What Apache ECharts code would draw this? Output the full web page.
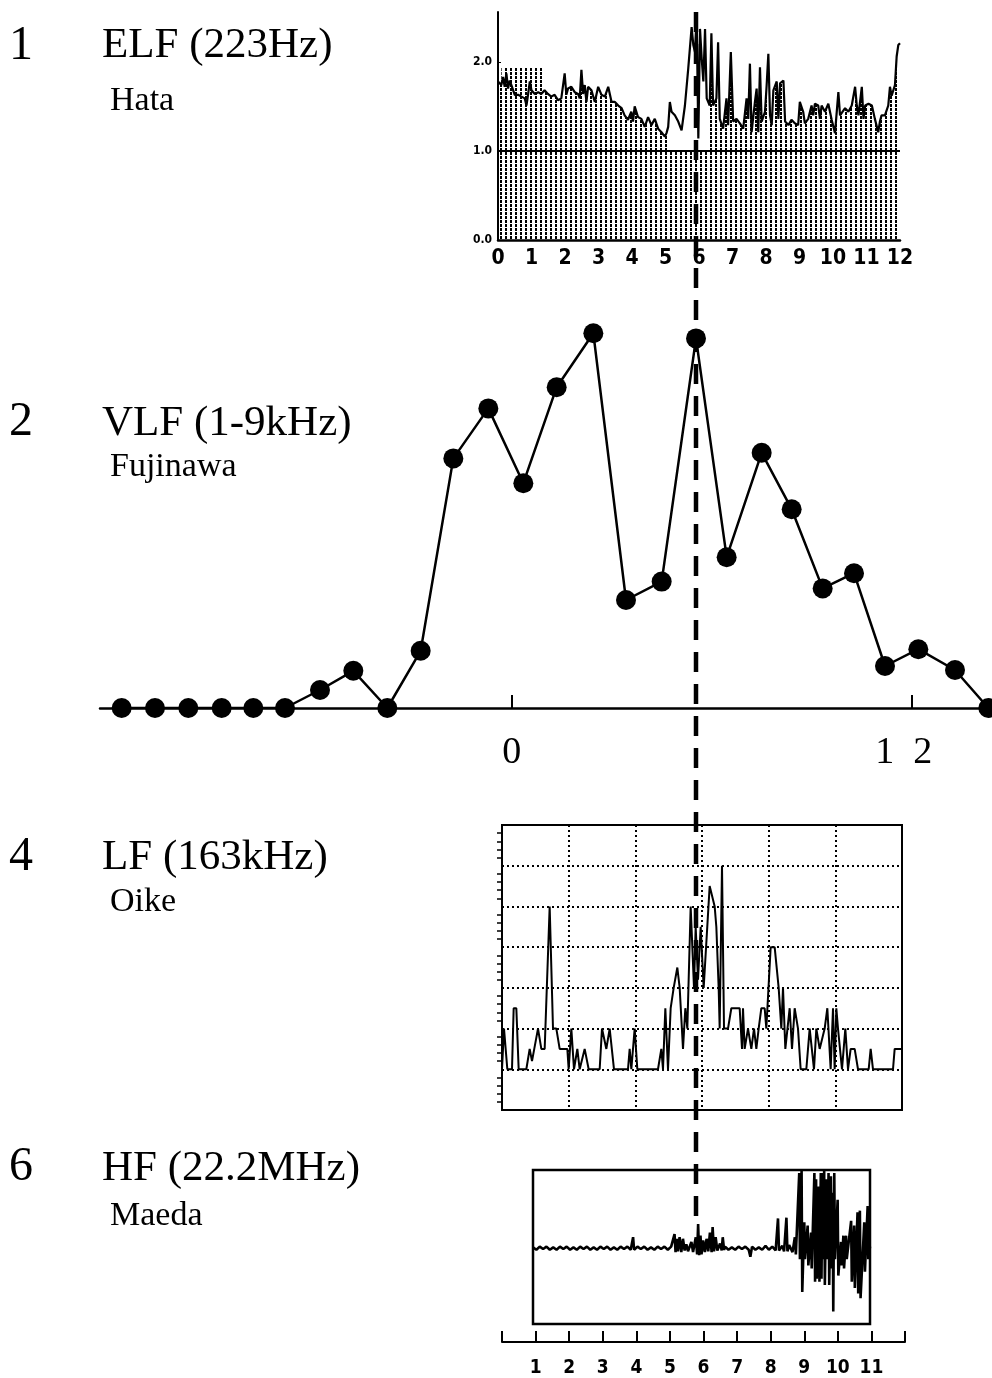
<!DOCTYPE html>
<html>
<head>
<meta charset="utf-8">
<title>ELF / VLF / LF / HF</title>
<script src="https://cdn.jsdelivr.net/npm/echarts@6/dist/echarts.min.js"></script>
<style>
  html, body { margin: 0; padding: 0; background: #fff; }
  #chart { width: 992px; height: 1378px; }
</style>
</head>
<body>
<div id="chart"></div>
<script>
// ---- values ----

// 1  ELF (223Hz), Hata  -- hours 0..12, relative level
const elfHours = [
  0.00,0.10,0.15,0.20,0.25,0.30,0.35,0.40,0.50,0.60,
  0.70,0.80,0.85,0.90,0.95,1.00,1.10,1.20,1.29,1.39,
  1.49,1.59,1.69,1.79,1.89,1.99,2.04,2.09,2.19,2.29,
  2.39,2.44,2.49,2.54,2.59,2.64,2.69,2.79,2.89,2.99,
  3.09,3.19,3.29,3.39,3.49,3.59,3.69,3.78,3.88,3.98,
  4.03,4.08,4.18,4.28,4.38,4.48,4.58,4.68,4.78,4.88,
  4.98,5.03,5.08,5.13,5.18,5.28,5.38,5.48,5.53,5.58,
  5.68,5.78,5.83,5.88,5.93,5.98,6.03,6.08,6.13,6.18,
  6.23,6.32,6.37,6.42,6.52,6.57,6.62,6.72,6.82,6.87,
  6.95,7.02,7.12,7.22,7.32,7.42,7.47,7.52,7.57,7.67,
  7.72,7.77,7.82,7.87,7.97,8.02,8.07,8.12,8.17,8.22,
  8.32,8.37,8.42,8.52,8.57,8.67,8.76,8.86,8.96,9.01,
  9.11,9.16,9.26,9.36,9.41,9.46,9.56,9.61,9.66,9.76,
  9.86,9.96,10.06,10.16,10.21,10.26,10.36,10.46,10.56,10.61,
  10.66,10.71,10.76,10.86,10.91,10.96,11.06,11.16,11.25,11.35,
  11.40,11.45,11.55,11.65,11.70,11.75,11.85,11.90,11.95,12.00
];
const elfValues = [
  1.78,1.74,1.83,1.72,1.87,1.70,1.79,1.74,1.63,1.63,
  1.61,1.59,1.51,1.64,1.78,1.68,1.64,1.66,1.64,1.68,
  1.64,1.61,1.63,1.57,1.59,1.87,1.63,1.70,1.72,1.66,
  1.64,1.59,1.91,1.64,1.74,1.55,1.72,1.68,1.55,1.72,
  1.63,1.61,1.72,1.55,1.55,1.51,1.48,1.40,1.35,1.44,
  1.33,1.50,1.38,1.36,1.27,1.38,1.29,1.36,1.25,1.21,
  1.16,1.20,1.27,1.55,1.44,1.40,1.33,1.23,1.25,1.51,
  1.93,2.39,2.19,2.11,2.52,1.14,2.37,2.04,1.78,2.37,
  1.59,1.51,2.32,1.51,1.59,2.22,1.36,1.25,1.59,1.29,
  2.11,1.33,1.36,1.31,1.25,1.59,1.36,1.98,1.21,1.55,
  1.70,1.21,1.94,1.33,1.44,1.74,2.09,1.40,1.29,1.68,
  1.78,1.36,1.76,1.79,1.33,1.29,1.35,1.31,1.29,1.55,
  1.44,1.31,1.36,1.51,1.40,1.53,1.51,1.36,1.51,1.44,
  1.53,1.35,1.20,1.66,1.40,1.40,1.48,1.44,1.51,1.53,
  1.72,1.51,1.40,1.72,1.36,1.51,1.53,1.51,1.36,1.21,
  1.33,1.40,1.40,1.51,1.72,1.62,1.74,2.06,2.19,2.21
];
const elfBlankSpan = [5.08, 6.32];      // hours where the shading above 1.0 is missing
const elfShadedBox = [0.10, 1.33, 1.93]; // from, to, top level of the dotted box at top-left
const elfRefLevel = 1.0;

// 2  VLF (1-9kHz), Fujinawa -- hourly counts
const vlfHours = [-11.7,-10.7,-9.7,-8.7,-7.75,-6.8,-5.75,-4.75,-3.73,-2.73,-1.75,-0.7,0.35,
  1.35,2.45,3.43,4.5,5.53,6.45,7.5,8.4,9.33,10.27,11.2,12.2,13.3,14.3];
const vlfValues = [0,0,0,0,0,0,4.5,9.3,0,14.3,62.4,74.9,56.2,
  80.2,93.7,27,31.6,92.4,37.7,63.8,49.7,29.9,33.7,10.5,14.7,9.5,0];
const vlfTickHours = [0, 12];
const vlfTickLabels = { 0: '0', 12: '{shift|1  2}' };
const eventHour = 5.53; // dashed line, on the VLF time axis

// 4  LF (163kHz), Oike
const lfHours = [0.00,0.06,0.16,0.30,0.35,0.43,0.50,0.73,0.83,0.90,
  1.08,1.18,1.28,1.43,1.53,1.63,1.73,1.96,2.00,2.08,
  2.16,2.26,2.33,2.48,2.60,2.93,3.00,3.13,3.23,3.36,
  3.78,3.83,3.88,3.98,4.06,4.68,4.78,4.83,4.90,4.98,
  5.06,5.15,5.26,5.33,5.43,5.50,5.56,5.66,5.76,5.81,
  5.88,5.96,6.05,6.23,6.38,6.43,6.50,6.53,6.60,6.66,
  6.78,6.88,7.13,7.20,7.23,7.28,7.38,7.48,7.56,7.63,
  7.70,7.78,7.88,7.93,8.06,8.18,8.30,8.38,8.43,8.50,
  8.63,8.70,8.78,8.88,8.96,9.13,9.23,9.36,9.43,9.53,
  9.68,9.76,9.86,9.93,9.98,10.03,10.08,10.20,10.30,10.38,
  10.46,10.58,10.68,11.00,11.06,11.13,11.73,11.78,12.00];
const lfLevels = [1,2,1,1,2.5,2.5,1,1,1.5,1.2,
  2,1.5,1.5,5,2,2,1.5,1.5,1,2,
  1,1.5,1,1.5,1,1,2,1.5,2,1,
  1,1.5,1,2,1,1,1.5,1,2.5,1,
  2.5,3,3.5,3,1.5,2.5,2,5,3,4.5,
  3.2,4.5,3,5.5,5,4.5,3,2,6,2,
  2,2.5,2.5,1.5,2.5,1.5,2,1.5,2,1.5,
  2,2.5,2.5,2,4,4,3,2,3,1.5,
  2.5,1.5,2.5,2,1,1,2,1,2,1.5,
  2,2.5,1,2.5,1,2.5,2,1,2,1,
  1.5,1.5,1,1,1.5,1,1,1.5,1.5];

// 6  HF (22.2MHz), Maeda
const hfHours = [
  1.00,1.10,1.20,1.30,1.40,1.50,1.60,1.70,1.80,1.90,
  2.00,2.10,2.20,2.30,2.40,2.50,2.60,2.70,2.80,2.90,
  3.00,3.10,3.20,3.30,3.40,3.50,3.60,3.70,3.80,3.90,
  3.97,4.00,4.10,4.20,4.30,4.40,4.50,4.60,4.70,4.80,
  4.90,5.00,5.10,
  5.20,5.23,5.27,5.30,5.35,5.40,5.45,5.50,5.55,5.60,
  5.70,5.75,5.83,5.87,5.90,5.93,5.97,6.00,6.05,6.10,
  6.15,6.20,6.25,6.30,6.33,6.37,6.42,6.47,6.55,6.60,
  6.63,6.67,
  6.70,6.80,6.90,7.00,7.10,7.20,7.30,7.40,7.45,7.50,
  7.60,7.70,7.80,7.90,8.00,8.10,8.20,8.27,8.30,8.40,
  8.45,8.52,8.55,8.60,8.70,8.77,8.80,
  8.90,8.92,8.97,8.99,9.05,9.07,9.15,9.17,9.25,9.27,
  9.35,9.37,9.40,9.42,9.48,9.50,9.54,9.56,9.59,9.61,
  9.64,9.66,9.71,9.73,9.77,9.79,9.84,9.86,9.89,9.91,
  9.94,9.96,10.04,10.06,10.14,10.16,10.21,10.23,10.29,10.31,
  10.44,10.46,10.53,10.55,10.63,10.65,10.70,10.72,10.83,10.85,
  10.93,10.95,11.00
];
const hfValues = [
  0.01,-0.02,0.02,-0.01,0.02,-0.02,0.01,-0.02,0.02,-0.01,
  0.02,-0.02,0.01,-0.02,0.02,-0.01,0.02,-0.02,0.01,-0.02,
  0.02,-0.01,0.02,-0.02,0.01,-0.02,0.02,-0.01,0.02,-0.02,
  0.14,-0.02,0.02,-0.01,0.02,-0.02,0.01,-0.02,0.02,-0.01,
  0.02,-0.02,0.02,
  0.18,-0.05,0.12,-0.04,0.14,-0.05,0.12,-0.03,0.05,-0.04,
  0.08,-0.05,0.14,-0.08,0.31,-0.09,0.16,-0.08,0.10,-0.05,
  0.12,-0.04,0.20,-0.05,0.27,-0.04,0.14,-0.03,0.06,-0.03,
  0.14,-0.02,
  0.02,-0.02,0.01,-0.02,0.02,-0.01,0.02,-0.02,-0.11,0.02,
  -0.02,0.01,-0.02,0.03,-0.02,0.02,-0.03,0.38,-0.03,0.03,
  -0.04,0.39,-0.04,0.04,-0.05,0.14,-0.08,
  0.96,-0.14,1.00,-0.56,0.33,-0.14,0.29,-0.22,0.20,-0.26,
  0.96,-0.43,0.88,-0.39,0.79,-0.43,0.96,-0.39,0.96,-0.14,
  1.00,-0.47,0.88,-0.14,0.96,-0.47,0.92,-0.26,0.71,-0.81,
  0.96,-0.14,0.62,-0.35,0.08,-0.22,0.16,-0.26,0.16,-0.14,
  0.35,-0.43,0.29,-0.51,0.46,-0.58,0.48,-0.64,0.33,-0.30,
  0.54,-0.14,0.02
];
const hfTickHours = [1, 2, 3, 4, 5, 6, 7, 8, 9, 10, 11];

// panel captions
const panelNumbers = ['1', '2', '4', '6'];
const panelTitles = ['ELF (223Hz)', 'VLF (1-9kHz)', 'LF (163kHz)', 'HF (22.2MHz)'];
const panelStations = ['Hata', 'Fujinawa', 'Oike', 'Maeda'];

// ---- helpers ----
function pairs(xs, ys) {
  return xs.map(function (x, i) { return [x, ys[i]]; });
}

// vertical dotted shading used under the ELF curve
function makeHatch() {
  const c = document.createElement('canvas');
  c.width = 5;
  c.height = 4;
  const ctx = c.getContext('2d');
  ctx.fillStyle = '#000';
  ctx.fillRect(0, 0, 2, 3);
  return c;
}
const hatchFill = { image: makeHatch(), repeat: 'repeat' };

const SERIF = '"Liberation Serif", "Times New Roman", serif';
const NARROW = '"Liberation Sans Narrow", "DejaVu Sans Condensed", "Arial Narrow", sans-serif';

const chart = echarts.init(document.getElementById('chart'), null, { renderer: 'canvas' });

const option = {
  animation: false,
  backgroundColor: '#fff',
  grid: [
    { left: 498, top: 12, width: 402, height: 228 },               // ELF
    { left: 100, top: 308, width: 892, height: 400 },              // VLF
    { left: 502, top: 825, width: 400, height: 285, show: true,     // LF
      borderColor: '#000', borderWidth: 2, backgroundColor: 'transparent' },
    { left: 533, top: 1170, width: 337, height: 154, show: true,    // HF box
      borderColor: '#000', borderWidth: 2.5, backgroundColor: 'transparent' },
    { left: 502, top: 1341, width: 403, height: 1 }                 // HF time axis
  ],
  xAxis: [
    {
      gridIndex: 0, type: 'value', min: 0, max: 12, interval: 1,
      axisLine: { lineStyle: { color: '#000', width: 2.5 } },
      axisTick: { show: false },
      splitLine: { show: false },
      axisLabel: { color: '#000', fontFamily: NARROW, fontWeight: 'bold', fontSize: 21, margin: 8 }
    },
    {
      gridIndex: 1, type: 'value', min: -12.35, max: 14.41,
      axisLine: { lineStyle: { color: '#000', width: 2.5 } },
      axisTick: { show: true, inside: true, length: 13, customValues: vlfTickHours,
        lineStyle: { color: '#000', width: 2 } },
      splitLine: { show: false },
      axisLabel: {
        customValues: vlfTickHours, color: '#000', fontFamily: SERIF, fontSize: 38, margin: 26,
        rich: { shift: { fontFamily: SERIF, fontSize: 38, color: '#000', padding: [0, 16, 0, 0] } },
        formatter: function (v) { return vlfTickLabels[v] !== undefined ? vlfTickLabels[v] : ''; }
      }
    },
    {
      gridIndex: 2, type: 'value', min: 0, max: 12, interval: 2,
      axisLine: { show: false },
      axisTick: { show: false },
      axisLabel: { show: false },
      splitLine: { show: true, lineStyle: { color: '#000', width: 2, type: [2, 3] } }
    },
    {
      gridIndex: 3, type: 'value', min: 1, max: 11, show: false
    },
    {
      gridIndex: 4, type: 'value', min: 0, max: 12, interval: 1,
      axisLine: { lineStyle: { color: '#000', width: 2 } },
      axisTick: { show: true, inside: true, length: 11, lineStyle: { color: '#000', width: 2 } },
      splitLine: { show: false },
      axisLabel: {
        color: '#000', fontFamily: NARROW, fontWeight: 'bold', fontSize: 19, margin: 17,
        formatter: function (v) { return hfTickHours.indexOf(v) >= 0 ? String(v) : ''; }
      }
    }
  ],
  yAxis: [
    {
      gridIndex: 0, type: 'value', min: 0, max: 2.56, interval: 1,
      axisLine: { show: true, lineStyle: { color: '#000', width: 2 } },
      axisTick: { show: true, inside: true, length: 3, lineStyle: { color: '#000' } },
      splitLine: { show: false },
      axisLabel: {
        showMaxLabel: false, color: '#000', fontFamily: NARROW, fontWeight: 'bold', fontSize: 12, margin: 6,
        formatter: function (v) { return v.toFixed(1); }
      }
    },
    { gridIndex: 1, type: 'value', min: 0, max: 100, show: false },
    {
      gridIndex: 2, type: 'value', min: 0, max: 7, interval: 1,
      axisLine: { show: false },
      axisTick: { show: false },
      minorTick: { show: true, splitNumber: 5, length: 5, lineStyle: { color: '#000', width: 1.5 } },
      axisLabel: { show: false },
      splitLine: { show: true, lineStyle: { color: '#000', width: 2, type: [2, 3] } }
    },
    { gridIndex: 3, type: 'value', min: -0.97, max: 1, show: false },
    { gridIndex: 4, type: 'value', min: 0, max: 1, show: false }
  ],
  series: [
    // ELF: dotted shading under the curve
    {
      type: 'line', xAxisIndex: 0, yAxisIndex: 0, z: 2,
      data: pairs(elfHours, elfValues),
      symbol: 'none', silent: true,
      lineStyle: { width: 0 },
      areaStyle: { color: hatchFill, opacity: 1 }
    },
    // ELF: white gap above 1.0 and the dotted box at top-left
    {
      type: 'custom', xAxisIndex: 0, yAxisIndex: 0, z: 3, silent: true,
      data: [[elfBlankSpan[0], elfBlankSpan[1], 2.56, elfRefLevel, 0],
             [elfShadedBox[0], elfShadedBox[1], elfShadedBox[2], 1.5, 1]],
      renderItem: function (params, api) {
        const a = api.coord([api.value(0), api.value(2)]);
        const b = api.coord([api.value(1), api.value(3)]);
        return {
          type: 'rect',
          shape: { x: a[0], y: a[1], width: b[0] - a[0], height: b[1] - a[1] },
          style: { fill: api.value(4) === 0 ? '#fff' : hatchFill }
        };
      }
    },
    // ELF curve with the 1.0 reference line
    {
      type: 'line', xAxisIndex: 0, yAxisIndex: 0, z: 4,
      data: pairs(elfHours, elfValues),
      symbol: 'none',
      lineStyle: { color: '#000', width: 2.2 },
      markLine: {
        silent: true, symbol: 'none', label: { show: false },
        lineStyle: { color: '#000', width: 2, type: 'solid' },
        data: [{ yAxis: elfRefLevel }]
      }
    },
    // VLF
    {
      type: 'line', xAxisIndex: 1, yAxisIndex: 1, z: 4,
      data: pairs(vlfHours, vlfValues),
      symbol: 'circle', symbolSize: 20,
      itemStyle: { color: '#000' },
      lineStyle: { color: '#000', width: 2.5 }
    },
    // LF
    {
      type: 'line', xAxisIndex: 2, yAxisIndex: 2, z: 4,
      data: pairs(lfHours, lfLevels),
      symbol: 'none',
      lineStyle: { color: '#000', width: 2 }
    },
    // HF
    {
      type: 'line', xAxisIndex: 3, yAxisIndex: 3, z: 4,
      data: pairs(hfHours, hfValues),
      symbol: 'none',
      lineStyle: { color: '#000', width: 2.6 }
    }
  ]
};

chart.setOption(option);

// captions and the dashed event line
const captionCenters = [46, 424, 858, 1169];
const numberCenters = [46, 422, 857, 1167];
const stationCenters = [101, 467, 902, 1216];
const graphics = [];
for (let i = 0; i < panelTitles.length; i++) {
  graphics.push({
    type: 'text', x: 9, y: numberCenters[i], z: 10,
    style: { text: panelNumbers[i], font: '48px ' + SERIF, fill: '#000', verticalAlign: 'middle' }
  });
  graphics.push({
    type: 'text', x: 102, y: captionCenters[i], z: 10,
    style: { text: panelTitles[i], font: '43px ' + SERIF, fill: '#000', verticalAlign: 'middle' }
  });
  graphics.push({
    type: 'text', x: 110, y: stationCenters[i], z: 10,
    style: { text: panelStations[i], font: '34px ' + SERIF, fill: '#000', verticalAlign: 'middle' }
  });
}
const eventX = chart.convertToPixel({ xAxisIndex: 1 }, eventHour);
graphics.push({
  type: 'line', z: 20, silent: true,
  shape: { x1: eventX, y1: 12, x2: eventX, y2: 1222 },
  style: { stroke: '#000', lineWidth: 4.5, lineDash: [20, 12] }
});
chart.setOption({ graphic: graphics });
</script>
</body>
</html>
